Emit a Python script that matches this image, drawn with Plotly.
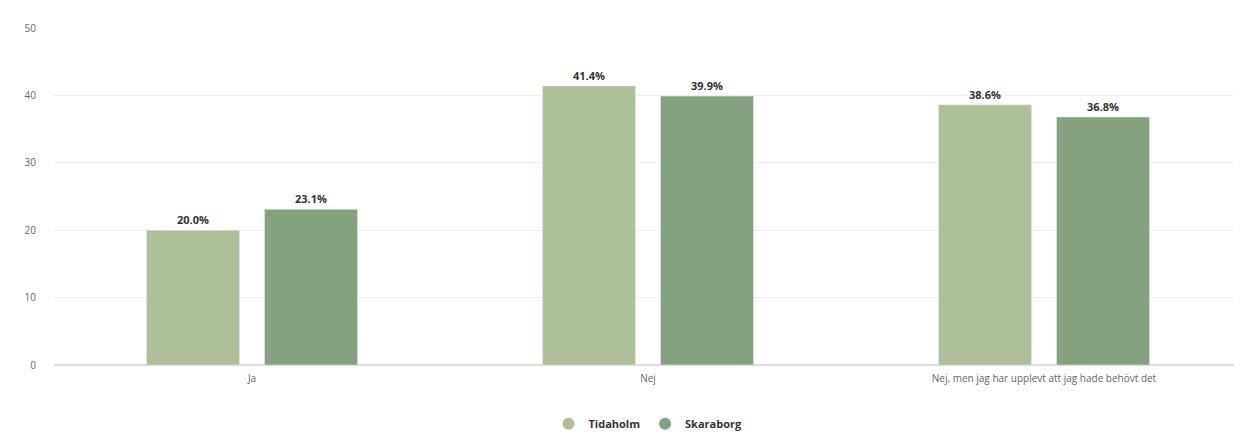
import plotly.graph_objects as go

categories = ["Ja", "Nej", "Nej, men jag har upplevt att jag hade behövt det"]
series_names = ["Tidaholm", "Skaraborg"]
tidaholm = [20.0, 41.4, 38.6]
skaraborg = [23.1, 39.9, 36.8]
colors = ["#adc09a", "#84a27e"]
y_ticks = [0, 10, 20, 30, 40, 50]

fig = go.Figure()
for name, vals, col in zip(series_names, [tidaholm, skaraborg], colors):
    fig.add_trace(go.Bar(
        x=categories, y=vals, name=name, marker_color=col, showlegend=False,
        text=[f"{v:.1f}%" for v in vals], textposition="outside",
        textfont=dict(family="Open Sans", size=11, color="#333333", weight="bold"),
        cliponaxis=False,
    ))
for name, col in zip(series_names, colors):
    fig.add_trace(go.Scatter(
        x=[None], y=[None], mode="markers", name=name,
        marker=dict(symbol="circle", size=11, color=col),
    ))

fig.update_layout(
    width=1242, height=434,
    margin=dict(l=46, r=8, t=20, b=77, autoexpand=False),
    paper_bgcolor="white", plot_bgcolor="white",
    barmode="group", bargap=0.404, bargroupgap=0.212,
    font=dict(family="Open Sans", size=10, color="#666666"),
    showlegend=True,
    legend=dict(orientation="h", x=0.5, xanchor="center", yref="container",
                y=0.042, yanchor="middle",
                font=dict(family="Open Sans", size=11, color="#333333", weight="bold"),
                itemsizing="constant"),
)
fig.update_yaxes(range=[0, 50], tickvals=y_ticks, showgrid=True, gridcolor="#eeeeee",
                 zeroline=True, zerolinecolor="#dddddd", ticks="", ticklabelstandoff=17,
                 tickfont=dict(size=10, color="#666666"))
fig.update_xaxes(showline=False, ticks="", ticklabelstandoff=6,
                 tickfont=dict(size=10, color="#666666"))

fig.write_html("out.html")
